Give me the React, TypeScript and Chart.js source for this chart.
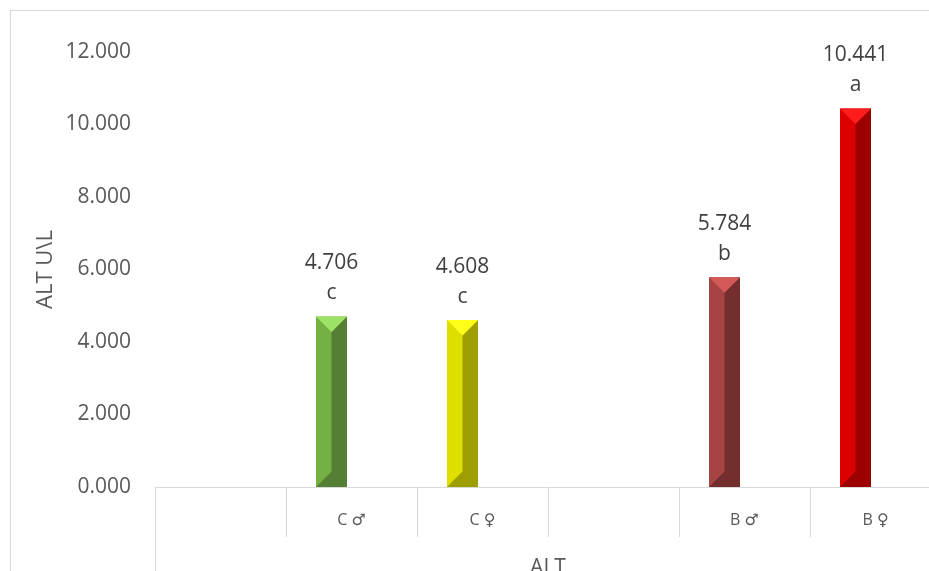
import React, { useEffect, useRef } from "react";
import { Chart, registerables } from "chart.js";

Chart.register(...registerables);

const categories = ["", "C ♂", "C ♀", "", "B ♂", "B ♀"];
const altValues = [null, 4.706, 4.608, null, 5.784, 10.441];
const spacerSeries = [null, null, null, null, null, null];
const significanceLetters = ["", "c", "c", "", "b", "a"];
const yTickMin = 0;
const yTickMax = 12;
const yTickStep = 2;

const leftColors = ["#000", "#76b045", "#dede00", "#000", "#a64444", "#dc0000"];
const rightColors = ["#000", "#547f34", "#9e9e00", "#000", "#742e2e", "#9c0000"];
const topColors = ["#000", "#9ce266", "#ffff1a", "#000", "#d35858", "#ff1c1c"];

const FONT = "'Open Sans', 'DejaVu Sans', sans-serif";

const bevelPlugin = {
  id: "bevel",
  afterDatasetsDraw(chart: any) {
    const ctx = chart.ctx;
    const meta = chart.getDatasetMeta(0);
    meta.data.forEach((bar: any, i: number) => {
      const v = altValues[i];
      if (v === null || v === undefined) return;
      const { x, y, base, width } = bar.getProps(["x", "y", "base", "width"], true);
      const l = x - width / 2;
      const r = x + width / 2;
      const h = width / 2;
      ctx.save();
      ctx.fillStyle = rightColors[i];
      ctx.beginPath();
      ctx.moveTo(x, y + h);
      ctx.lineTo(r, y);
      ctx.lineTo(r, base);
      ctx.lineTo(l, base);
      ctx.lineTo(x, base - h);
      ctx.closePath();
      ctx.fill();
      ctx.fillStyle = topColors[i];
      ctx.beginPath();
      ctx.moveTo(l, y);
      ctx.lineTo(r, y);
      ctx.lineTo(x, y + h);
      ctx.closePath();
      ctx.fill();
      // labels
      ctx.fillStyle = "#404040";
      ctx.font = `21px ${FONT}`;
      ctx.textAlign = "center";
      ctx.textBaseline = "middle";
      ctx.fillText((v as number).toFixed(3), x, y - 53);
      ctx.fillText(significanceLetters[i], x, y - 23);
      ctx.restore();
    });
    // left boundary line of the category axis
    const xs = chart.scales.x;
    ctx.save();
    ctx.strokeStyle = "#d9d9d9";
    ctx.lineWidth = 1;
    ctx.beginPath();
    ctx.moveTo(Math.round(chart.chartArea.left) + 0.5, xs.top);
    ctx.lineTo(Math.round(chart.chartArea.left) + 0.5, chart.height);
    ctx.stroke();
    ctx.restore();
  },
};

export default function App() {
  const ref = useRef<HTMLCanvasElement | null>(null);
  useEffect(() => {
    if (!ref.current) return;
    const chart = new Chart(ref.current, {
      type: "bar",
      data: {
        labels: categories,
        datasets: [
          {
            label: "ALT",
            data: altValues as any,
            backgroundColor: leftColors,
            categoryPercentage: 0.6107,
            barPercentage: 0.775,
          },
          {
            label: "spacer",
            data: spacerSeries as any,
            backgroundColor: "rgba(0,0,0,0)",
            categoryPercentage: 0.6107,
            barPercentage: 0.775,
          },
        ],
      },
      options: {
        responsive: false,
        animation: false,
        layout: { padding: { top: 52, right: 19, left: 0, bottom: 0 } },
        plugins: {
          legend: { display: false },
          tooltip: { enabled: false },
        },
        scales: {
          y: {
            min: yTickMin,
            max: yTickMax,
            ticks: {
              stepSize: yTickStep,
              padding: 24,
              color: "#595959",
              font: { family: FONT, size: 21 },
              callback: (v: any) => Number(v).toFixed(3),
            },
            grid: { display: false, drawTicks: false },
            border: { display: false },
            title: {
              display: true,
              text: "ALT U\\L",
              color: "#595959",
              font: { family: FONT, size: 22 },
              padding: { top: 33, bottom: 0 },
            },
            afterFit: (s: any) => {
              s.width = 155;
            },
          },
          x: {
            grid: {
              display: true,
              offset: true,
              drawOnChartArea: false,
              drawTicks: true,
              tickLength: 50,
              color: "#d9d9d9",
            },
            border: { display: true, color: "#d9d9d9" },
            ticks: {
              padding: -26,
              color: "#595959",
              font: { family: FONT, size: 16 },
              maxRotation: 0,
              autoSkip: false,
            },
            title: {
              display: true,
              text: "ALT",
              color: "#595959",
              font: { family: FONT, size: 21 },
              padding: { top: 0, bottom: 19 },
            },
            afterFit: (s: any) => {
              s.height = 113;
            },
          },
        },
      },
      plugins: [bevelPlugin],
    });
    return () => chart.destroy();
  }, []);

  return (
    <div
      style={{
        position: "fixed",
        left: 0,
        top: 0,
        width: 929,
        height: 571,
        overflow: "hidden",
        background: "#fff",
      }}
    >
      <div
        style={{
          position: "absolute",
          left: 10,
          top: 10,
          width: 1000,
          height: 1000,
          border: "1px solid #d9d9d9",
        }}
      />
      <canvas
        ref={ref}
        width={960}
        height={600}
        style={{ position: "absolute", left: 0, top: 0, width: 960, height: 600 }}
      />
    </div>
  );
}
